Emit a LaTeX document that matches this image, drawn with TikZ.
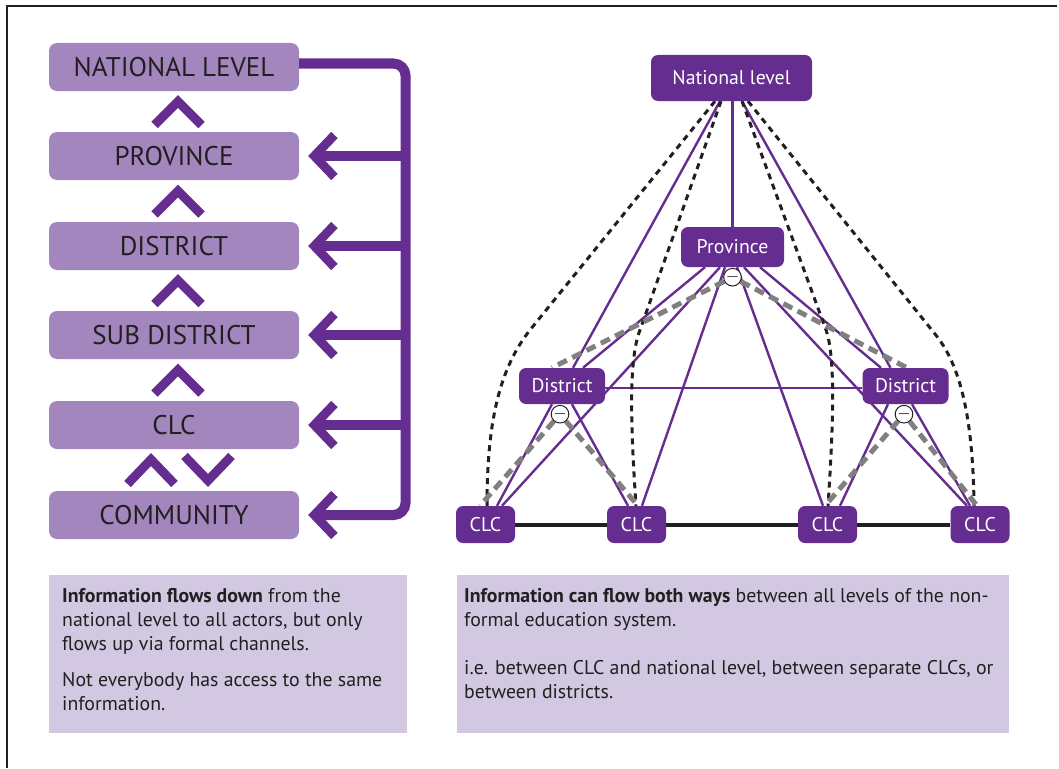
\documentclass[tikz,border=0pt]{standalone}
\usepackage{fontspec}
\setmainfont{PT Sans}
\usetikzlibrary{arrows.meta,calc,backgrounds}

\definecolor{nfePurple}{HTML}{662D91}
\definecolor{nfeLilac}{HTML}{A386BE}
\definecolor{nfePale}{HTML}{D3C8E2}
\definecolor{nfeInk}{HTML}{231F20}
\definecolor{nfeGrey}{HTML}{808080}

\tikzset{
  lvlbox/.style={fill=nfeLilac, rounded corners=8pt, minimum width=250pt, minimum height=48pt,
    inner sep=0pt, text=nfeInk, font=\fontsize{27}{32}\selectfont},
  chev/.style={draw=nfePurple, line width=9pt, line join=miter, line cap=butt},
  trunk/.style={draw=nfePurple, line width=10pt},
  barb/.style={-{Straight Barb[length=20pt,width=42pt,line width=9pt]}},
  netbox/.style={fill=nfePurple, rounded corners=7pt, inner sep=0pt, text=white,
    font=\fontsize{19.8}{23}\selectfont},
  link/.style={draw=nfePurple, line width=2.4pt},
  direct/.style={draw=nfeInk, line width=3pt, dash pattern=on 6pt off 5pt},
  weak/.style={draw=nfeGrey, line width=5pt, dash pattern=on 10pt off 6pt},
  peer/.style={draw=nfeInk, line width=4pt},
  gap/.style={circle, draw=nfeInk, fill=white, line width=1pt, minimum size=16pt, inner sep=0pt,
    font=\fontsize{17}{17}\selectfont},
  notebox/.style={fill=nfePale, anchor=north west, inner sep=0pt},
  notetext/.style={anchor=north west, inner sep=0pt, align=left, text=nfeInk,
    font=\fontsize{19.8}{24}\selectfont}
}

\begin{document}
\begin{tikzpicture}[x=1pt, y=-1pt]
  \useasboundingbox (0,0) rectangle (1059,768);
  \draw[nfeInk, line width=1.2pt] (7,768) -- (7,6) -- (1057,6);

  %levels, left
  \foreach \y/\txt/\name in {67/NATIONAL LEVEL/natL, 156/PROVINCE/provL, 246/DISTRICT/distL,
                             335/SUB DISTRICT/subL, 425/CLC/clcL, 515/COMMUNITY/comL}{
     \node[lvlbox] (\name) at (174,\y) {\txt};
  }

  %up chevrons
  \foreach \lo/\hi in {provL/natL, distL/provL, subL/distL, clcL/subL}{
     \coordinate (mid) at ($(\hi.south)!0.5!(\lo.north)$);
     \draw[chev] ($(mid)+(-19.5,13.5)$) -- ($(mid)+(4,-10)$) -- ($(mid)+(27.5,13.5)$);
  }
  \coordinate (mid) at ($(clcL.south)!0.5!(comL.north)$);
  \draw[chev] ($(mid)+(-46.5,14)$) -- ($(mid)+(-23,-10.5)$) -- ($(mid)+(0.5,14)$);
  \draw[chev] ($(mid)+(10.5,-14)$) -- ($(mid)+(34,10.5)$) -- ($(mid)+(57.5,-14)$);

  %national level down to all
  \coordinate (spine) at (405.5,300);
  \draw[trunk, barb, rounded corners=12pt] ([yshift=3.5pt]natL.east) -| (spine) |- ([xshift=9pt]comL.east);
  \foreach \name in {provL, distL, subL, clcL}{
     \draw[trunk, barb] (spine |- \name.east) -- ([xshift=9pt]\name.east);
  }

  %network, right
  \def\dy{386}
  \def\cy{524.5}
  \node[netbox, minimum width=161pt, minimum height=46pt] (natR) at (731.5,78) {National level};
  \node[netbox, minimum width=103pt, minimum height=40pt] (provR) at (732.5,247) {Province};
  \foreach \x/\name in {562/distA, 905.5/distB}{
     \node[netbox, minimum width=86pt, minimum height=36pt] (\name) at (\x,\dy) {District};
  }
  \foreach \x/\name in {485.5/clcA, 636.5/clcB, 827.5/clcC, 980/clcD}{
     \node[netbox, minimum width=59pt, minimum height=37pt] (\name) at (\x,\cy) {CLC};
  }
  \node[gap] (gapP) at ([yshift=-10pt]provR.south) {$-$};
  \node[gap] (gapA) at ([xshift=-2pt,yshift=-10pt]distA.south) {$-$};
  \node[gap] (gapB) at ([xshift=-1.5pt,yshift=-10pt]distB.south) {$-$};

  \begin{scope}[on background layer]
    %formal channels
    \draw[link] (provR.north |- natR.south) -- (provR.north);
    \draw[link] ([xshift=-11.5pt]natR.south) -- ([xshift=11pt]distA.north);
    \draw[link] ([xshift=10.5pt]natR.south) -- ([xshift=-15pt]distB.north);
    \foreach \s/\e/\name in {-27.5/21/distA, 27.5/-24.5/distB, -12.5/16.5/clcA,
                             -7.5/5.5/clcB, 4.5/-4.5/clcC, 11.5/-13/clcD}{
       \draw[link] ([xshift=\s pt]provR.south) -- ([xshift=\e pt]\name.north);
    }
    \foreach \s/\e/\from/\to in {-10/11.5/distA/clcA, 10/-8.5/distA/clcB,
                                 -17.5/12.5/distB/clcC, 6.5/-10/distB/clcD}{
       \draw[link] ([xshift=\s pt]\from.south) -- ([xshift=\e pt]\to.north);
    }
    \draw[link] ([yshift=-2pt]distA.east) -- ([yshift=-2pt]distB.west);

    %national straight to clc
    \draw[direct] ([xshift=-16.5pt]natR.south) -- (530,330) .. controls (500,368) and (487,420) .. ([xshift=1.5pt]clcA.north);
    \draw[direct] ([xshift=-10.5pt]natR.south) -- (640,330) .. controls (628,360) and (631,430) .. ([xshift=-0.5pt]clcB.north);
    \draw[direct] ([xshift=10.5pt]natR.south) -- (826,330) .. controls (836,358) and (833,430) .. ([xshift=0.5pt]clcC.north);
    \draw[direct] ([xshift=16.5pt]natR.south) -- (935,334) .. controls (958,362) and (973,410) .. ([xshift=-6pt]clcD.north);

    %weak ties
    \draw[weak] (gapP) -- ([xshift=-10pt]distA.north);
    \draw[weak] (gapP) -- ([xshift=1.5pt]distB.north);
    \draw[weak] (gapA) -- ([xshift=-5.5pt]clcA.north);
    \draw[weak] (gapA) -- ([xshift=1.5pt]clcB.north);
    \draw[weak] (gapB) -- ([xshift=-2.5pt]clcC.north);
    \draw[weak] (gapB) -- ([xshift=-3pt]clcD.north);

    %clc to clc
    \draw[peer] (clcA) -- (clcB) -- (clcC) -- (clcD);
  \end{scope}

  %notes
  \node[notebox, minimum width=358pt, minimum height=158pt] (noteL) at (49,575) {};
  \node[notebox, minimum width=552pt, minimum height=158pt] (noteR) at (457,575) {};
  \node[notetext] (txtL) at ([xshift=13pt,yshift=-13pt]noteL.north west)
     {\textbf{Information flows down} from the\\
      national level to all actors, but only\\
      flows up via formal channels.\\[12pt]
      Not everybody has access to the same\\
      information.};
  \node[notetext] (txtR) at ([xshift=7pt,yshift=-13pt]noteR.north west)
     {\textbf{Information can flow both ways} between all levels of the non-\\
      formal education system.\\[24pt]
      i.e. between CLC and national level, between separate CLCs, or\\
      between districts.};
\end{tikzpicture}
\end{document}
